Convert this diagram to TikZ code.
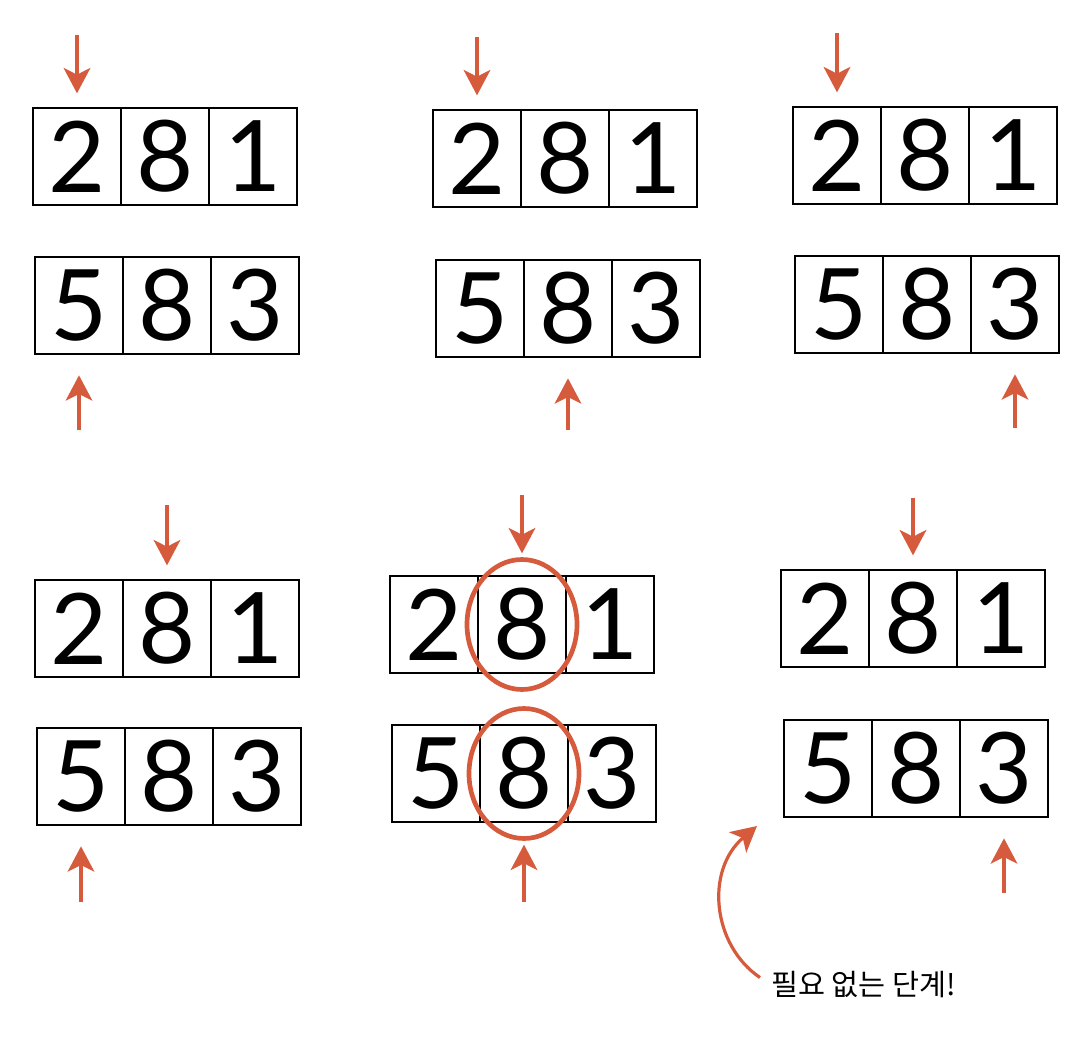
\documentclass[tikz,border=0pt]{standalone}
\usepackage{fontspec}
\setmainfont{Lato}
\newfontfamily\krfont{Noto Sans CJK KR}
\usetikzlibrary{positioning,calc,arrows.meta}
\definecolor{ptrred}{RGB}{214,90,60}

\begin{document}
\begin{tikzpicture}[x=0.75pt, y=-0.75pt, >={Stealth[length=19pt, width=20pt, inset=5pt]}]
% --- Global Styles ---
\tikzstyle{cell} = [draw, line width=2.1pt, minimum width=66pt, minimum height=72.75pt, inner sep=0pt, outer sep=0pt, font=\fontsize{74}{74}\selectfont]
\tikzstyle{ptr} = [->, line width=2.4pt, draw=ptrred]
\tikzstyle{ring} = [line width=3.5pt, draw=ptrred]
\tikzstyle{note} = [font=\krfont\fontsize{22}{22}\selectfont, anchor=west, inner sep=0pt]

% --- One row of three digit cells: name, x, y, digits ---
\def\digitrow#1#2#3#4#5#6{%
  \node[cell] (#1-1) at (#2,#3) {#4};
  \node[cell, right=0pt of #1-1] (#1-2) {#5};
  \node[cell, right=0pt of #1-2] (#1-3) {#6};
}

\useasboundingbox (0,0) rectangle (1090,1056);

% ==========================================
% TOP ROW
% ==========================================
% Step 1
\digitrow{p1t}{77}{156.5}{2}{8}{1}
\digitrow{p1b}{79}{305.5}{5}{8}{3}
\coordinate (p1in) at (77,35);
\coordinate (p1up) at (79,430);
\draw[ptr, shorten >=11pt] (p1in) -- (p1t-1.north);
\draw[ptr, shorten >=16pt] (p1up) -- (p1b-1.south);

% Step 2
\digitrow{p2t}{477}{158.5}{2}{8}{1}
\digitrow{p2b}{480}{308.5}{5}{8}{3}
\coordinate (p2in) at (477,37);
\coordinate (p2up) at (568,430);
\draw[ptr, shorten >=11pt] (p2in) -- (p2t-1.north);
\draw[ptr, shorten >=16pt] (p2up) -- (p2b-2.south);

% Step 3
\digitrow{p3t}{837}{155.5}{2}{8}{1}
\digitrow{p3b}{839}{304.5}{5}{8}{3}
\coordinate (p3in) at (837,33);
\coordinate (p3up) at (1015,428);
\draw[ptr, shorten >=11pt] (p3in) -- (p3t-1.north);
\draw[ptr, shorten >=16pt] (p3up) -- (p3b-3.south);

% ==========================================
% BOTTOM ROW
% ==========================================
% Step 4
\digitrow{p4t}{79}{628.5}{2}{8}{1}
\digitrow{p4b}{81}{776.5}{5}{8}{3}
\coordinate (p4in) at (167,505);
\coordinate (p4up) at (81,902);
\draw[ptr, shorten >=11pt] (p4in) -- (p4t-2.north);
\draw[ptr, shorten >=16pt] (p4up) -- (p4b-1.south);

% Step 5 (match found)
\digitrow{p5t}{434}{624.5}{2}{8}{1}
\digitrow{p5b}{436}{773.5}{5}{8}{3}
\coordinate (p5in) at (522,495);
\coordinate (p5up) at (524,902);
\draw[ptr, shorten >=17pt] (p5in) -- (p5t-2.north);
\draw[ptr, shorten >=17pt] (p5up) -- (p5b-2.south);
\draw[ring] (p5t-2) ellipse [x radius=55, y radius=65];
\draw[ring] (p5b-2) ellipse [x radius=55, y radius=65];

% Step 6
\digitrow{p6t}{825}{618.5}{2}{8}{1}
\digitrow{p6b}{828}{768.5}{5}{8}{3}
\coordinate (p6in) at (913,498);
\coordinate (p6up) at (1004,893);
\draw[ptr, shorten >=11pt] (p6in) -- (p6t-2.north);
\draw[ptr, shorten >=16pt] (p6up) -- (p6b-3.south);

% Remark on the last step
\node[note] (skip) at (771,985) {필요 없는 단계!};
\coordinate (skiptip) at (757,826);
\draw[ptr, shorten <=10pt] (skip.west) .. controls (712,945) and (705,870) .. (skiptip);

\end{tikzpicture}
\end{document}
